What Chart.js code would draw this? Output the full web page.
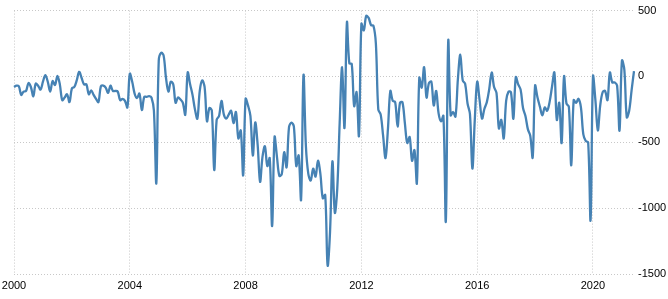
<!DOCTYPE html>
<html>
<head>
<meta charset="utf-8">
<script src="https://cdn.jsdelivr.net/npm/chart.js@4.4.1/dist/chart.umd.min.js"></script>
<style>
  html, body { margin: 0; padding: 0; background: #fff; }
  #wrap { width: 668px; height: 299px; }
</style>
</head>
<body>
<div id="wrap"><canvas id="myChart" width="668" height="299"></canvas></div>
<script>
// monthly series, Jan 2000 .. Jun 2021
const startYear = 2000;
const values = [
  -80, -70, -75, -140, -115, -110, -50, -80, -150, -55, -70, -100,
  -40, 10, -40, -115, -35, -65, 5, -60, -180, -160, -135, -195,
  -90, -80, -30, 35, -10, -60, -60, -135, -105, -140, -170, -195,
  -75, -70, -85, -125, -70, -110, -110, -115, -180, -170, -185, -235,
  20, -40, -130, -165, -130, -255, -155, -155, -150, -160, -260, -810,
  120, 180, 160, -10, -115, -40, -60, -200, -160, -175, -200, -290,
  30, -60, -140, -250, -320, -110, -30, -80, -340, -240, -260, -710,
  -330, -300, -185, -290, -320, -290, -260, -355, -270, -470, -410, -750,
  -170, -220, -300, -600, -350, -520, -800, -610, -530, -680, -620, -1135,
  -460, -610, -755, -740, -575, -690, -385, -350, -380, -680, -600, -935,
  10, -530, -740, -790, -700, -760, -640, -740, -925, -900, -1435, -1180,
  -645, -1035, -850, -350, 70, -390, 410, 100, 95, -225, -120, -450,
  400, 350, 460, 445, 390, 385, 250, -250, -290, -450, -620, -400,
  -110, -185, -195, -380, -200, -195, -350, -505, -460, -640, -560, -810,
  -10, -85, 70, -160, -50, -40, -220, -110, -280, -340, -300, -1100,
  270, -295, -270, -305, -20, 165, -30, -55, -205, -285, -700, -330,
  -40, -180, -320, -245, -195, -95, 30, -80, -125, -395, -330, -470,
  -185, -115, -120, -320, -5, -60, -100, -240, -300, -400, -450, -615,
  -70, -160, -230, -295, -235, -260, -195, -80, 30, -330, -200, -505,
  0, -205, -230, -675, -180, -200, -170, -235, -440, -490, -500, -1090,
  0, -180, -410, -220, -120, -110, -180, 30, -45, -45, -70, -410,
  120, 50, -310, -260, -105, 40
];
const yearTicks = [2000, 2004, 2008, 2012, 2016, 2020];
const yTicks = [500, 0, -500, -1000, -1500];

// category labels, one per month
const months = values.map((v, i) => {
  const y = startYear + Math.floor(i / 12);
  const m = (i % 12) + 1;
  return y + "-" + String(m).padStart(2, "0");
});

function yearLabel(i) {
  if (i % 12 !== 0) return null;
  const y = startYear + i / 12;
  return yearTicks.includes(y) ? String(y) : null;
}

const gridColor = "#c8c8c8";
const tickFont = { family: "'Liberation Sans', Arial, sans-serif", size: 11 };

const ctx = document.getElementById("myChart").getContext("2d");
new Chart(ctx, {
  type: "line",
  data: {
    labels: months,
    datasets: [{
      data: values,
      borderColor: "rgb(70,130,180)",
      borderWidth: 2.3,
      pointRadius: 0,
      tension: 0.35,
      fill: false
    }]
  },
  options: {
    responsive: false,
    animation: false,
    layout: { padding: { top: 10, left: 0, right: 0, bottom: 0 } },
    plugins: {
      legend: { display: false },
      tooltip: { enabled: false }
    },
    scales: {
      x: {
        type: "category",
        offset: false,
        grid: { color: gridColor, lineWidth: 1, drawTicks: false },
        border: { display: false, dash: [1, 2] },
        ticks: {
          autoSkip: false,
          maxRotation: 0,
          padding: 5,
          color: "#000",
          font: tickFont,
          callback: function (val, i) { return yearLabel(i); }
        },
        afterFit: function (scale) {
          scale.height = 25;
          scale.paddingLeft = 14;
          scale.paddingRight = 0;
        }
      },
      y: {
        position: "right",
        min: -1500,
        max: 500,
        afterBuildTicks: function (scale) {
          scale.ticks = yTicks.map(v => ({ value: v }));
        },
        grid: { color: gridColor, lineWidth: 1, drawTicks: false },
        border: { display: false, dash: [1, 2] },
        ticks: {
          padding: 4,
          color: "#000",
          font: tickFont,
          callback: function (v) { return String(v); }
        },
        afterFit: function (scale) { scale.width = 34; }
      }
    }
  }
});
</script>
</body>
</html>
